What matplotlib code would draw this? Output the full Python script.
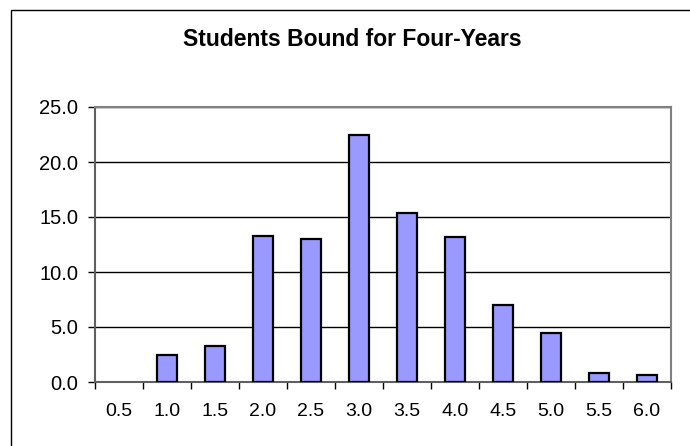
import matplotlib
matplotlib.use("Agg")
import matplotlib.pyplot as plt
from matplotlib.patches import Rectangle

categories = ["0.5", "1.0", "1.5", "2.0", "2.5", "3.0", "3.5", "4.0", "4.5", "5.0", "5.5", "6.0"]
values = [0.0, 2.45, 3.27, 13.3, 13.0, 22.5, 15.4, 13.2, 7.0, 4.43, 0.85, 0.6]
y_ticks = [0.0, 5.0, 10.0, 15.0, 20.0, 25.0]
title = "Students Bound for Four-Years"

plt.rcParams["font.family"] = ["Liberation Sans", "DejaVu Sans"]

W, H = 690, 446
fig = plt.figure(figsize=(W / 100, H / 100), dpi=100)

# outer chart frame (extends past the right and bottom edges)
fig.patches.append(Rectangle((11 / W, -0.1), 1.2, 1 - 10 / H + 0.1,
                             transform=fig.transFigure, fill=False,
                             edgecolor="black", linewidth=1.0))

left, right, top, bottom = 95, 671, 107, 382
ax = fig.add_axes([left / W, 1 - bottom / H, (right - left) / W, (bottom - top) / H])

x = list(range(len(categories)))
bars = ax.bar(x, values, width=0.4, color="#9999FF", edgecolor="black",
              linewidth=1.6, zorder=3)
for b, v in zip(bars, values):
    if v == 0:
        b.set_linewidth(0)

ax.set_xlim(-0.5, len(categories) - 0.5)
ax.set_ylim(0, 25)
ax.set_yticks(y_ticks)
ax.set_yticklabels([f"{v:.1f}" for v in y_ticks], fontsize=14.5)
ax.yaxis.grid(True, color="black", linewidth=1.0, zorder=1)
ax.set_axisbelow(True)

ax.set_xticks([i + 0.5 for i in range(-1, len(categories))], minor=False)
ax.set_xticklabels([])
ax.set_xticks(x, minor=True)
ax.set_xticklabels(categories, minor=True, fontsize=14)
ax.tick_params(axis="x", which="major", direction="out", length=5, width=1, color="black")
ax.tick_params(axis="x", which="minor", length=0, pad=15)
ax.tick_params(axis="y", direction="out", length=5, width=1, color="black", pad=7)

for s in ["top", "right"]:
    ax.spines[s].set_color("#808080")
    ax.spines[s].set_linewidth(1.5)
for s in ["left", "bottom"]:
    ax.spines[s].set_color("#606060")
    ax.spines[s].set_linewidth(1.5)

fig.text(352 / W, 1 - 46 / H, title, ha="center", va="baseline",
         fontsize=16.5, fontweight="bold")

fig.savefig("out.png", dpi=100)
